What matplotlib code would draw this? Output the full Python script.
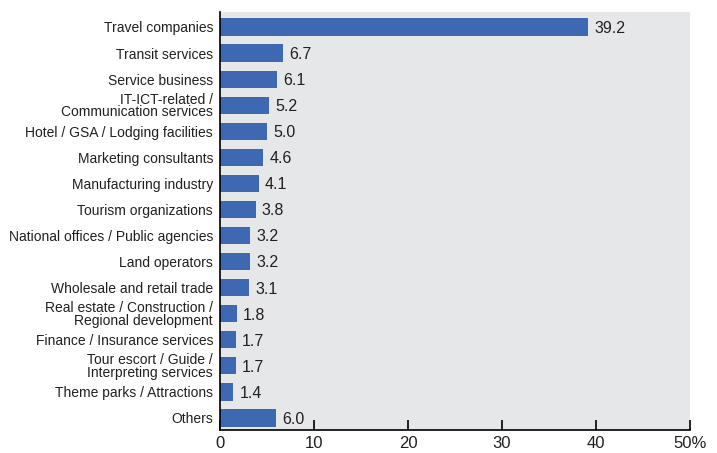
import matplotlib
matplotlib.use("Agg")
import matplotlib.pyplot as plt

categories = [
    "Travel companies",
    "Transit services",
    "Service business",
    "IT-ICT-related /\nCommunication services",
    "Hotel / GSA / Lodging facilities",
    "Marketing consultants",
    "Manufacturing industry",
    "Tourism organizations",
    "National offices / Public agencies",
    "Land operators",
    "Wholesale and retail trade",
    "Real estate / Construction /\nRegional development",
    "Finance / Insurance services",
    "Tour escort / Guide /\nInterpreting services",
    "Theme parks / Attractions",
    "Others",
]
values = [39.2, 6.7, 6.1, 5.2, 5.0, 4.6, 4.1, 3.8, 3.2, 3.2, 3.1, 1.8, 1.7, 1.7, 1.4, 6.0]
xticks = [0, 10, 20, 30, 40, 50]
xticklabels = ["0", "10", "20", "30", "40", "50%"]

bar_color = "#3f68b3"
bg_color = "#e6e7e8"
text_color = "#231f20"
fonts = ["Liberation Sans", "DejaVu Sans"]

fig = plt.figure(figsize=(7.17, 4.53), dpi=100)
ax = fig.add_axes([0.3068, 0.0508, 0.6555, 0.9227])
ax.set_facecolor(bg_color)

pos = list(range(len(categories)))
ax.barh(pos, values, height=0.66, color=bar_color, zorder=2)

# value labels just right of each bar
for p, v in zip(pos, values):
    ax.annotate(f"{v:.1f}", (v, p), xytext=(4.5, -1), textcoords="offset points",
                va="center", ha="left", fontsize=11.5, color=text_color, family=fonts)

ax.set_yticks(pos)
ax.set_yticklabels(categories, fontsize=10, linespacing=0.85,
                   family=fonts, color=text_color)
ax.tick_params(axis="y", length=0, pad=5)

ax.set_xticks(xticks)
ax.set_xticklabels(xticklabels, fontsize=12, color=text_color, family=fonts)
ax.tick_params(axis="x", direction="in", length=7, width=1.2, pad=4)
ax.set_xlim(0, 50)
ax.set_ylim(15.46, -0.575)

for s in ["top", "right"]:
    ax.spines[s].set_visible(False)
ax.spines["left"].set_linewidth(1.2)
ax.spines["bottom"].set_linewidth(1.2)

fig.savefig("out.png", dpi=100)
